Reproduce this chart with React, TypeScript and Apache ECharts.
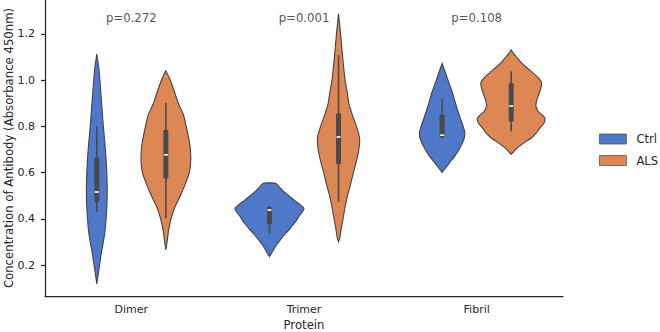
import React, { useEffect, useRef } from "react";
import * as echarts from "echarts";

const categories = ["Dimer", "Trimer", "Fibril"];
const hues = ["Ctrl", "ALS"];
const yTicks = [0.2, 0.4, 0.6, 0.8, 1.0, 1.2];
const pValues = ["p=0.272", "p=0.001", "p=0.108"];
const pLabelY = 1.27;

// violin density profiles: [value, relative half-width (1 = widest violin)]
const ctrlDimer = [
  [1.113, 0], [1.05, 0.06], [1.0, 0.09], [0.9, 0.14], [0.8, 0.19], [0.7, 0.25],
  [0.6, 0.29], [0.55, 0.3], [0.5, 0.3], [0.45, 0.29], [0.4, 0.27], [0.35, 0.24],
  [0.3, 0.19], [0.25, 0.13], [0.2, 0.08], [0.15, 0.03], [0.118, 0],
];
const ctrlTrimer = [
  [0.556, 0], [0.554, 0.18], [0.54, 0.27], [0.52, 0.4], [0.5, 0.56], [0.48, 0.72],
  [0.46, 0.9], [0.445, 1.0], [0.43, 0.95], [0.41, 0.85], [0.39, 0.77], [0.37, 0.66],
  [0.35, 0.55], [0.33, 0.43], [0.31, 0.32], [0.29, 0.22], [0.27, 0.13], [0.25, 0.06],
  [0.236, 0],
];
const ctrlFibril = [
  [1.073, 0], [1.03, 0.1], [0.987, 0.2], [0.95, 0.29], [0.914, 0.36], [0.87, 0.45],
  [0.83, 0.54], [0.8, 0.61], [0.77, 0.66], [0.74, 0.62], [0.7, 0.49], [0.67, 0.36],
  [0.64, 0.2], [0.62, 0.1], [0.601, 0],
];
const alsDimer = [
  [1.041, 0], [1.0, 0.13], [0.95, 0.25], [0.9, 0.36], [0.85, 0.51], [0.8, 0.59],
  [0.75, 0.66], [0.7, 0.71], [0.65, 0.72], [0.6, 0.68], [0.55, 0.56], [0.5, 0.42],
  [0.45, 0.26], [0.4, 0.15], [0.35, 0.08], [0.3, 0.035], [0.265, 0],
];
const alsTrimer = [
  [1.287, 0], [1.2, 0.06], [1.1, 0.12], [1.0, 0.19], [0.95, 0.25], [0.9, 0.3],
  [0.85, 0.4], [0.8, 0.52], [0.75, 0.61], [0.7, 0.59], [0.65, 0.52], [0.6, 0.43],
  [0.55, 0.35], [0.5, 0.26], [0.45, 0.19], [0.4, 0.13], [0.35, 0.07], [0.32, 0.04],
  [0.301, 0],
];
const alsFibril = [
  [1.131, 0], [1.115, 0.07], [1.094, 0.19], [1.075, 0.3], [1.058, 0.42], [1.04, 0.56],
  [1.02, 0.72], [1.0, 0.84], [0.987, 0.88], [0.96, 0.85], [0.93, 0.78], [0.9, 0.72],
  [0.885, 0.72], [0.865, 0.78], [0.85, 0.9], [0.835, 0.98], [0.815, 0.95], [0.79, 0.82],
  [0.77, 0.72], [0.75, 0.58], [0.735, 0.43], [0.72, 0.29], [0.705, 0.16], [0.69, 0.07],
  [0.68, 0],
];

// inner box stats: [whiskerLow, q1, median, q3, whiskerHigh]
const ctrlBoxes = [
  [0.43, 0.473, 0.516, 0.667, 0.8],
  [0.338, 0.378, 0.438, 0.452, 0.455],
  [0.75, 0.752, 0.762, 0.85, 0.921],
];
const alsBoxes = [
  [0.403, 0.575, 0.677, 0.784, 0.902],
  [0.474, 0.637, 0.754, 0.857, 1.109],
  [0.778, 0.821, 0.888, 0.987, 1.038],
];

const ctrlProfiles = [ctrlDimer, ctrlTrimer, ctrlFibril];
const alsProfiles = [alsDimer, alsTrimer, alsFibril];

const BLUE = "#5078c8";
const ORANGE = "#dd8755";
const EDGE = "#444444";
const INNER = "#4a4a4a";
const TEXT = "#262626";
const FONT = "DejaVu Sans";

function violinSeries(name: string, color: string, profiles: number[][][], boxes: number[][], offset: number) {
  return {
    type: "custom",
    name,
    coordinateSystem: "cartesian2d",
    itemStyle: { color },
    data: categories.map((_, i) => [i, boxes[i][2]]),
    encode: { x: 0, y: 1 },
    renderItem: (params: any, api: any) => {
      const i = params.dataIndex;
      const band = api.size([1, 0])[0];
      const cx = api.coord([i, 0])[0] + offset * band;
      const maxHalf = 0.2 * band;
      const prof = profiles[i];
      const right = prof.map(([v, d]) => [cx + d * maxHalf, api.coord([i, v])[1]]);
      const left = prof
        .slice()
        .reverse()
        .map(([v, d]) => [cx - d * maxHalf, api.coord([i, v])[1]]);
      const [wl, q1, med, q3, wh] = boxes[i];
      const yWl = api.coord([i, wl])[1];
      const yQ1 = api.coord([i, q1])[1];
      const yMed = api.coord([i, med])[1];
      const yQ3 = api.coord([i, q3])[1];
      const yWh = api.coord([i, wh])[1];
      const bw = 5;
      return {
        type: "group",
        children: [
          {
            type: "polygon",
            shape: { points: right.concat(left), smooth: 0.25 },
            style: { fill: color, stroke: EDGE, lineWidth: 1.1 },
          },
          {
            type: "line",
            shape: { x1: cx, y1: yWh, x2: cx, y2: yWl },
            style: { stroke: INNER, lineWidth: 1.6 },
          },
          {
            type: "rect",
            shape: { x: cx - bw / 2, y: yQ3, width: bw, height: Math.max(yQ1 - yQ3, 1), r: 1 },
            style: { fill: INNER },
          },
          {
            type: "rect",
            shape: { x: cx - 2, y: yMed - 0.8, width: 4, height: 1.6 },
            style: { fill: "#ffffff" },
          },
        ],
      };
    },
  };
}

export default function App() {
  const ref = useRef<HTMLDivElement>(null);
  useEffect(() => {
    if (!ref.current) return;
    const chart = echarts.init(ref.current, null, { renderer: "svg" });
    chart.setOption({
      animation: false,
      backgroundColor: "#ffffff",
      textStyle: { fontFamily: FONT },
      grid: { left: 45, right: 97, top: 0, bottom: 36, outerBoundsMode: "none", containLabel: false },
      legend: {
        data: hues,
        orient: "vertical",
        left: 599,
        top: 133,
        padding: 0,
        itemWidth: 27,
        itemHeight: 10,
        itemGap: 9.5,
        icon: "rect",
        itemStyle: { borderColor: "#555555", borderWidth: 0.8 },
        textStyle: { fontFamily: FONT, fontSize: 11.5, color: TEXT, padding: [0, 0, 0, 5] },
      },
      xAxis: {
        type: "category",
        data: categories,
        boundaryGap: true,
        name: "Protein",
        nameLocation: "middle",
        nameGap: 22.5,
        nameMoveOverlap: false,
        nameTextStyle: { fontFamily: FONT, fontSize: 11.7, color: TEXT },
        axisLine: { lineStyle: { color: TEXT, width: 1.25 } },
        axisTick: { alignWithLabel: true, length: 4, lineStyle: { color: TEXT, width: 1.25 } },
        axisLabel: { margin: 8, fontFamily: FONT, fontSize: 11, color: TEXT },
        splitLine: { show: false },
      },
      yAxis: {
        type: "value",
        min: 0.066,
        max: 1.347,
        name: "Concentration of Antibody (Absorbance 450nm)",
        nameLocation: "middle",
        nameGap: 30.5,
        nameMoveOverlap: false,
        nameTextStyle: { fontFamily: FONT, fontSize: 11.7, color: TEXT },
        axisLine: { show: true, lineStyle: { color: TEXT, width: 1.25 } },
        axisTick: { show: true, length: 4, customValues: yTicks, lineStyle: { color: TEXT, width: 1.25 } },
        axisLabel: {
          margin: 10,
          fontFamily: FONT,
          fontSize: 11,
          color: TEXT,
          customValues: yTicks,
          formatter: (v: number) => v.toFixed(1),
        },
        splitLine: { show: false },
      },
      series: [
        violinSeries("Ctrl", BLUE, ctrlProfiles, ctrlBoxes, -0.2),
        violinSeries("ALS", ORANGE, alsProfiles, alsBoxes, 0.2),
        {
          type: "scatter",
          name: "p",
          symbolSize: 0,
          silent: true,
          data: categories.map((_, i) => [i, pLabelY]),
          label: {
            show: true,
            position: "inside",
            formatter: (p: any) => pValues[p.dataIndex],
            fontFamily: FONT,
            fontSize: 11.7,
            color: TEXT,
          },
        },
      ],
    });
    return () => chart.dispose();
  }, []);
  return <div ref={ref} style={{ position: "fixed", left: 0, top: 0, width: 660, height: 332 }} />;
}
